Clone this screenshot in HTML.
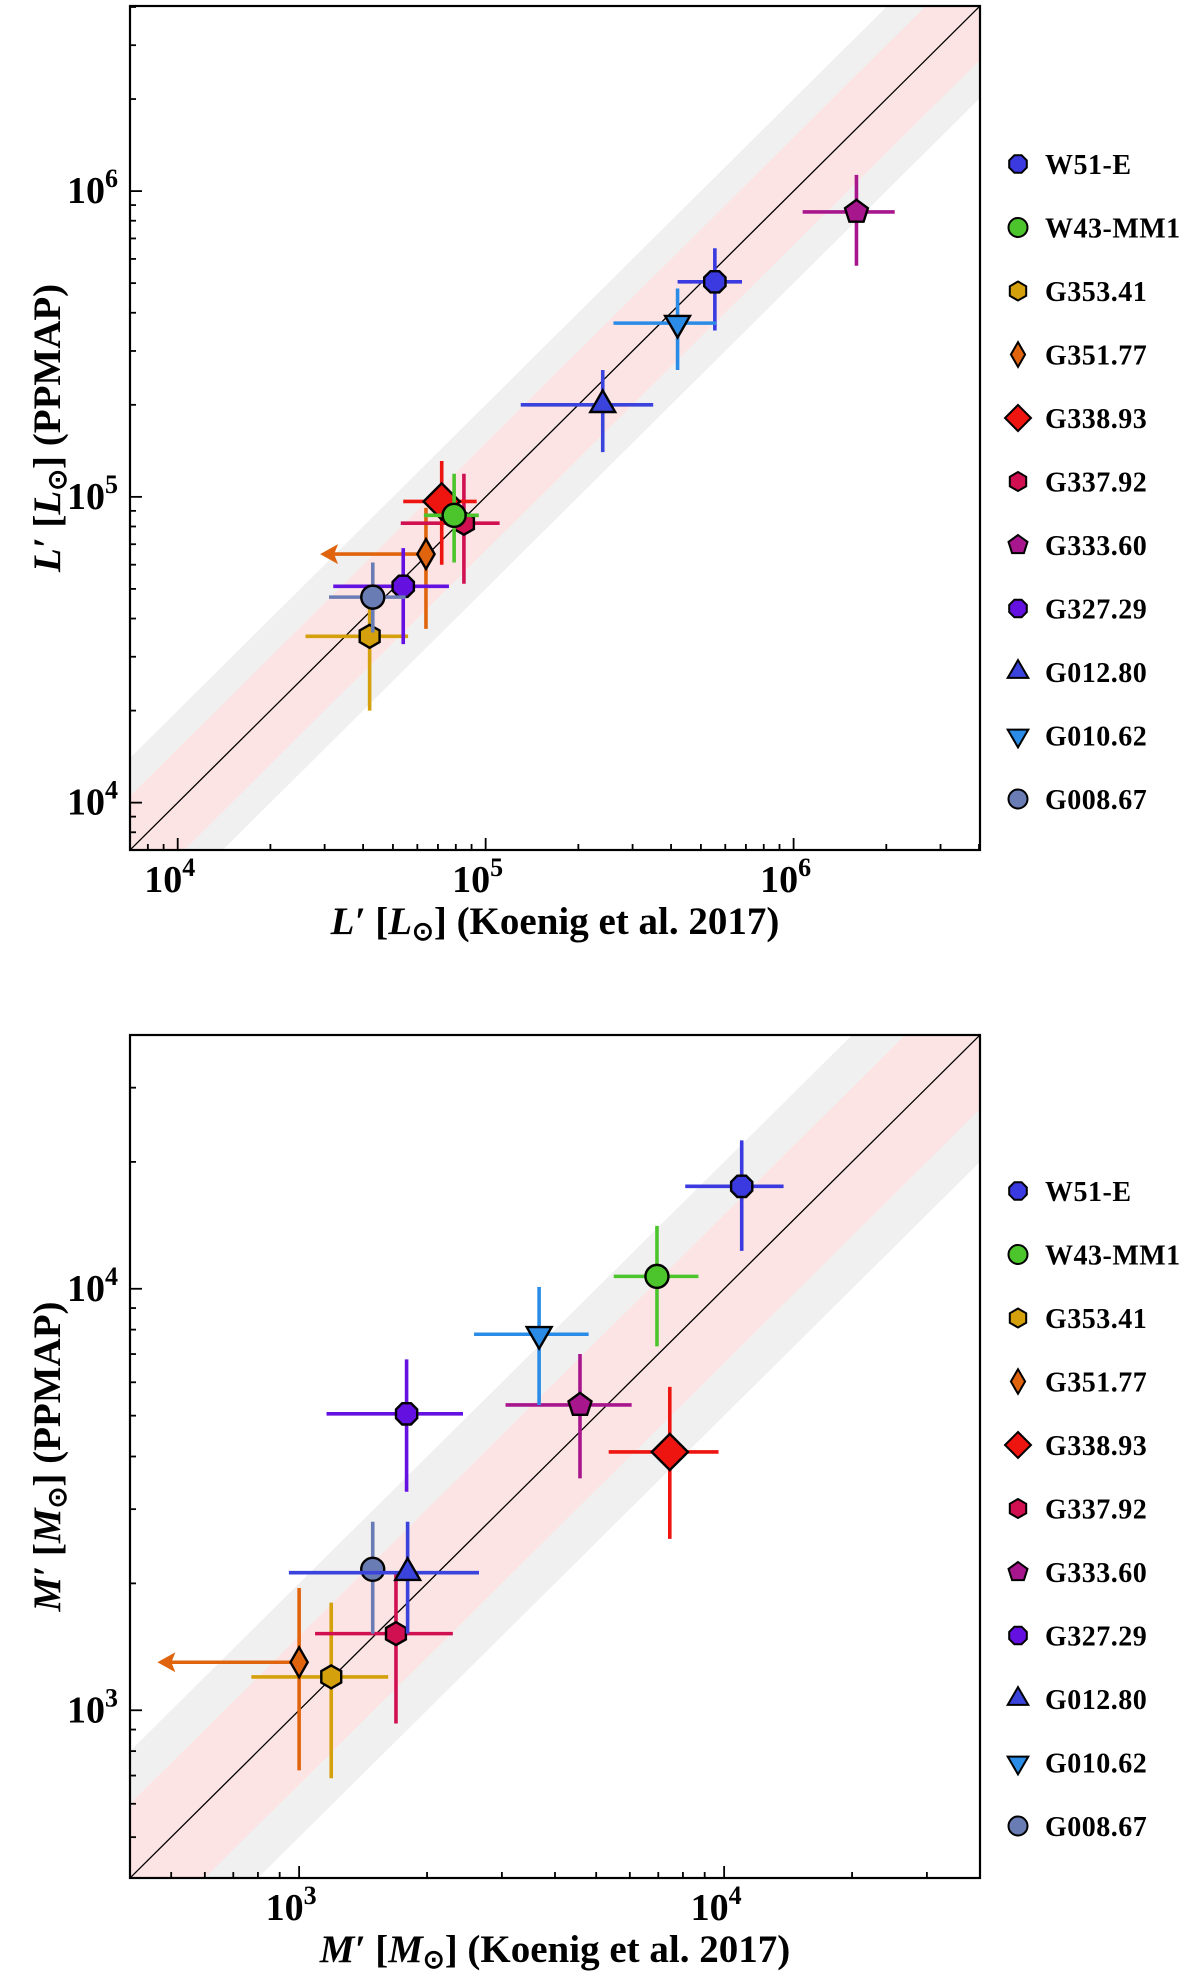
<!DOCTYPE html>
<html><head><meta charset="utf-8"><style>
html,body{margin:0;padding:0;background:#fff;overflow:hidden;width:1200px;height:1982px;}
svg{display:block;font-family:"Liberation Serif",serif;}
</style></head><body>
<svg id="fig" width="1200" height="1982" viewBox="0 0 1200 1982" xmlns="http://www.w3.org/2000/svg"></svg>
<script>
// ---------- data ----------
const names = ["W51-E","W43-MM1","G353.41","G351.77","G338.93","G337.92","G333.60","G327.29","G012.80","G010.62","G008.67"];
const shapes = ["oct","circle","hex","thind","diamond","hex","pent","oct","tri","tridown","circle"];
const colors = ["#3a3ae0","#4cc42c","#d4a00c","#e0640e","#ee1410","#d01050","#a8168e","#6410e0","#3a44dc","#2a8ce6","#6a7cb4"];
const drawOrder = [0,2,3,5,4,1,6,7,9,10,8];
// Luminosity panel (Koenig vs PPMAP)
const lumX   = [5.55e5,7.9e4,4.2e4,6.4e4,7.2e4,8.5e4,1.6e6,5.4e4,2.4e5,4.2e5,4.3e4];
const lumXlo = [4.2e5,6.3e4,2.6e4,2.9e4,5.4e4,5.3e4,1.07e6,3.2e4,1.3e5,2.6e5,3.1e4];
const lumXhi = [6.8e5,9.5e4,5.6e4,6.4e4,9.35e4,1.11e5,2.13e6,7.6e4,3.5e5,5.6e5,5.5e4];
const lumY   = [5.05e5,8.7e4,3.5e4,6.5e4,9.66e4,8.2e4,8.55e5,5.1e4,2.0e5,3.7e5,4.7e4];
const lumYlo = [3.5e5,6.1e4,2.0e4,3.7e4,6.0e4,5.2e4,5.7e5,3.3e4,1.4e5,2.6e5,3.6e4];
const lumYhi = [6.5e5,1.19e5,4.6e4,9.2e4,1.31e5,1.19e5,1.13e6,6.8e4,2.6e5,4.8e5,6.1e4];
const lumUpperX = [false,false,false,true,false,false,false,false,false,false,false];
// Mass panel
const massX   = [1.1e4,6.95e3,1.19e3,1.0e3,7.45e3,1.69e3,4.58e3,1.79e3,1.8e3,3.67e3,1.49e3];
const massXlo = [8.1e3,5.5e3,772,464,5.35e3,1.09e3,3.06e3,1.16e3,946,2.58e3,1.49e3];
const massXhi = [1.38e4,8.7e3,1.62e3,1.0e3,9.7e3,2.3e3,6.06e3,2.43e3,2.65e3,4.8e3,1.49e3];
const massY   = [1.75e4,1.07e4,1.2e3,1.3e3,4.1e3,1.52e3,5.3e3,5.05e3,2.12e3,7.8e3,2.16e3];
const massYlo = [1.23e4,7.3e3,690,720,2.55e3,930,3.55e3,3.3e3,1.52e3,5.3e3,1.52e3];
const massYhi = [2.25e4,1.41e4,1.8e3,1.95e3,5.85e3,2.12e3,7.0e3,6.8e3,2.8e3,1.01e4,2.8e3];
const massUpperX = [false,false,false,true,false,false,false,false,false,false,false];
const lumTicks = [4,5,6];
const massTicks = [3,4];

const NS="http://www.w3.org/2000/svg";
const svg=document.getElementById('fig');
function mk(tag,attrs,parent){const e=document.createElementNS(NS,tag);for(const k in attrs)e.setAttribute(k,attrs[k]);(parent||svg).appendChild(e);return e;}

function shapePath(s,cx,cy,r){
  let pts=[];
  const poly=(n,rot,rr)=>{for(let i=0;i<n;i++){const a=rot+i*2*Math.PI/n;pts.push([cx+rr*Math.cos(a),cy+rr*Math.sin(a)]);}};
  if(s==="oct")poly(8,Math.PI/8,r);
  else if(s==="hex")poly(6,-Math.PI/2,r);
  else if(s==="pent")poly(5,-Math.PI/2,r*1.05);
  else if(s==="tri")poly(3,-Math.PI/2,r*1.25);
  else if(s==="tridown")poly(3,Math.PI/2,r*1.25);
  else if(s==="diamond")pts=[[cx,cy-r*1.45],[cx+r*1.45,cy],[cx,cy+r*1.45],[cx-r*1.45,cy]];
  else if(s==="thind")pts=[[cx,cy-r*1.3],[cx+r*0.75,cy],[cx,cy+r*1.3],[cx-r*0.75,cy]];
  if(s==="circle")return null;
  return pts.map(p=>p[0].toFixed(1)+","+p[1].toFixed(1)).join(" ");
}
function marker(g,s,cx,cy,r,col,lw){
  const p=shapePath(s,cx,cy,r);
  let el;
  if(p===null) el=mk('circle',{cx:cx,cy:cy,r:r,fill:col,stroke:'#000','stroke-width':lw},g);
  else el=mk('polygon',{points:p,fill:col,stroke:'#000','stroke-width':lw,'stroke-linejoin':'miter'},g);
  return el;
}

function panel(P){
  const {L,R,T,B,lmin,lmax,X,Xlo,Xhi,Y,Ylo,Yhi,upper,ticks,id,sym,legY0}=P;
  const g=mk('g',{});
  
  
  const sx=v=>L+(Math.log10(v)-lmin)/(lmax-lmin)*(R-L);
  const sy=v=>B-(Math.log10(v)-lmin)/(lmax-lmin)*(B-T);
  const clipId='clip-'+id;
  const defs=mk('defs',{},g);const cp=mk('clipPath',{id:clipId},defs);mk('rect',{x:L,y:T,width:R-L,height:B-T},cp);
  const cg=mk('g',{'clip-path':'url(#'+clipId+')'},g);
  const band=(d,col,name)=>{
    const p=(lx,ly)=>[sx(Math.pow(10,lx)),sy(Math.pow(10,ly))];
    const pts=[p(lmin,lmin),p(lmin+d,lmin),p(lmax,lmax-d),p(lmax,lmax),p(lmax-d,lmax),p(lmin,lmin+d)];
    const e=mk('polygon',{points:pts.map(q=>q.join(',')).join(' '),fill:col},cg);
    
    
  };
  band(0.301,'#f0f0f0','factor-2-band');
  band(0.176,'#fde4e4','factor-1.5-band');
  const one=mk('line',{x1:sx(Math.pow(10,lmin)),y1:sy(Math.pow(10,lmin)),x2:sx(Math.pow(10,lmax)),y2:sy(Math.pow(10,lmax)),stroke:'#000','stroke-width':1.3},cg);
  
  
  // points
  for(const i of drawOrder){
    const pg=mk('g',{},cg);
    
    
    const c=colors[i],cx=sx(X[i]),cy=sy(Y[i]);
    if(upper[i]){
      const x0=sx(Xlo[i]);
      mk('line',{x1:cx,y1:cy,x2:x0+14,y2:cy,stroke:c,'stroke-width':3.6},pg);
      mk('polygon',{points:`${x0},${cy} ${x0+18},${cy-10} ${x0+14},${cy} ${x0+18},${cy+10}`,fill:c},pg);
    } else if(Xlo[i]!==Xhi[i]){
      mk('line',{x1:sx(Xlo[i]),y1:cy,x2:sx(Xhi[i]),y2:cy,stroke:c,'stroke-width':3.6},pg);
    }
    mk('line',{x1:cx,y1:sy(Ylo[i]),x2:cx,y2:sy(Yhi[i]),stroke:c,'stroke-width':3.6},pg);
    const r=shapes[i]==="diamond"?12.5:11.5;
    marker(pg,shapes[i],cx,cy,r,c,2.4);
  }
  // frame
  const fr=mk('rect',{x:L,y:T,width:R-L,height:B-T,fill:'none',stroke:'#000','stroke-width':2.2},g);
  
  
  // ticks
  for(let d=Math.floor(lmin);d<=Math.ceil(lmax);d++){
    for(let m=1;m<10;m++){
      const v=m*Math.pow(10,d),lv=Math.log10(v);
      if(lv<lmin-1e-6||lv>lmax+1e-6)continue;
      const len=m===1?12:6;
      mk('line',{x1:sx(v),y1:B,x2:sx(v),y2:B-len,stroke:'#000','stroke-width':1.8},g);
      mk('line',{x1:L,y1:sy(v),x2:L+len,y2:sy(v),stroke:'#000','stroke-width':1.8},g);
    }
  }
  for(let k=0;k<ticks.length;k++){
    const v=Math.pow(10,ticks[k]);
    const tx=mk('text',{x:sx(v)-8,y:B+42,'font-size':38,'text-anchor':'middle','font-weight':'bold'},g);
    
    
    tx.innerHTML='10<tspan dy="-16" font-size="26">'+ticks[k]+'</tspan>';
    const ty=mk('text',{x:L-12,y:sy(v)+12,'font-size':38,'text-anchor':'end','font-weight':'bold'},g);
    
    
    ty.innerHTML='10<tspan dy="-16" font-size="26">'+ticks[k]+'</tspan>';
  }
  // axis labels
  const xl=mk('text',{x:(L+R)/2,y:B+84,'font-size':39,'text-anchor':'middle','font-weight':'bold'},g);
  
  
  xl.innerHTML='<tspan font-style="italic">'+sym+'′</tspan> [<tspan font-style="italic">'+sym+'</tspan><tspan font-size="26" dy="6">⊙</tspan><tspan dy="-6">] (Koenig et al. 2017)</tspan>';
  const yc=(T+B)/2;
  const yl=mk('text',{x:0,y:0,'font-size':39,'text-anchor':'middle','font-weight':'bold',transform:`translate(60,${yc}) rotate(-90)`},g);
  
  
  yl.innerHTML='<tspan font-style="italic">'+sym+'′</tspan> [<tspan font-style="italic">'+sym+'</tspan><tspan font-size="26" dy="6">⊙</tspan><tspan dy="-6">] (PPMAP)</tspan>';
  // legend
  const lg=mk('g',{},g);
  
  
  for(let i=0;i<names.length;i++){
    const y=legY0+i*63.5;
    const eg=mk('g',{},lg);
    
    
    const r=shapes[i]==="diamond"?9:9.5;
    marker(eg,shapes[i],1018,y,r,colors[i],2);
    const t=mk('text',{x:1045,y:y+10,'font-size':28,'font-weight':'bold','letter-spacing':'0.5'},eg);
    t.textContent=names[i];
  }
}
panel({L:130,R:980,T:6,B:850,lmin:Math.log10(7000),lmax:Math.log10(4.03e6),X:lumX,Xlo:lumXlo,Xhi:lumXhi,Y:lumY,Ylo:lumYlo,Yhi:lumYhi,upper:lumUpperX,ticks:lumTicks,id:'luminosity',sym:'L',legY0:164});
panel({L:130,R:980,T:1035,B:1878,lmin:Math.log10(400),lmax:Math.log10(40000),X:massX,Xlo:massXlo,Xhi:massXhi,Y:massY,Ylo:massYlo,Yhi:massYhi,upper:massUpperX,ticks:massTicks,id:'mass',sym:'M',legY0:1191});
</script>
</body></html>
